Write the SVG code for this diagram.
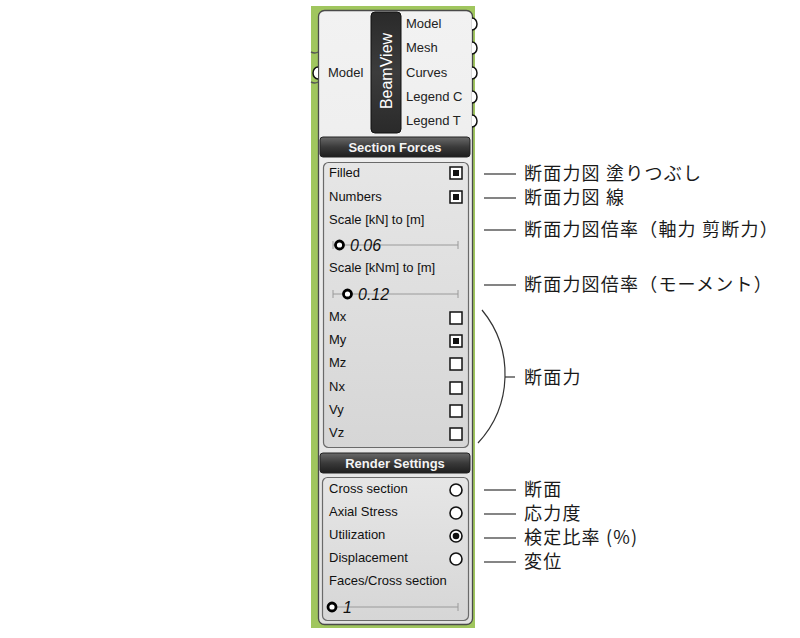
<svg xmlns="http://www.w3.org/2000/svg" width="800" height="638" viewBox="0 0 800 638">
<defs>
<linearGradient id="hdr" x1="0" y1="0" x2="0" y2="1">
<stop offset="0" stop-color="#6a6a6a"/><stop offset="0.5" stop-color="#3a3a3a"/><stop offset="1" stop-color="#1e1e1e"/>
</linearGradient>
<linearGradient id="body" x1="0" y1="0" x2="0" y2="1">
<stop offset="0" stop-color="#f2f2f2"/><stop offset="1" stop-color="#e2e2e2"/>
</linearGradient>
<linearGradient id="panel" x1="0" y1="0" x2="0" y2="1">
<stop offset="0" stop-color="#e6e6e6"/><stop offset="1" stop-color="#d6d6d6"/>
</linearGradient>
<linearGradient id="nick" x1="0" y1="0" x2="0" y2="1">
<stop offset="0" stop-color="#2a2a2a"/><stop offset="0.5" stop-color="#3c3c3c"/><stop offset="1" stop-color="#2a2a2a"/>
</linearGradient>
</defs>
<style>
.ui{font-family:"Liberation Sans","DejaVu Sans",Arial,sans-serif;font-size:13px;fill:#111}
.port{font-family:"Liberation Sans","DejaVu Sans",Arial,sans-serif;font-size:13px;fill:#222}
.hdrt{font-family:"Liberation Sans","DejaVu Sans",Arial,sans-serif;font-size:13px;font-weight:bold;fill:#f4f4f4}
.val{font-family:"Liberation Sans","DejaVu Sans",Arial,sans-serif;font-size:16px;font-style:italic;fill:#111}
.jp{font-family:"Noto Sans CJK JP","Noto Sans",sans-serif;font-size:18px;letter-spacing:1.2px;fill:#1a1a1a}
.cb{fill:#fff;stroke:#111;stroke-width:1.5}
.cbon{fill:#111}
.rd{fill:#fff;stroke:#111;stroke-width:1.6}
.sl{stroke:#9a9a9a;stroke-width:1;fill:none}
.knob{fill:#fff;stroke:#000;stroke-width:2.8}
.lead{stroke:#333;stroke-width:1.2;fill:none}
.pt{fill:#fff;stroke:#111;stroke-width:1.5}
</style>
<rect x="311" y="6" width="164" height="622" fill="#a0c65e"/>
<path d="M311,52 q4,2 7,0" stroke="#555" stroke-width="1.5" fill="none"/>
<path d="M311,82 q4,2 7,0" stroke="#555" stroke-width="1.5" fill="none"/>

<g id="beamview-node">
<rect x="318.5" y="10.5" width="154" height="614" rx="6" fill="url(#body)" stroke="#4a4a4a" stroke-width="1.3"/>
<path class="pt" d="M318,67 a5,6 0 0 0 0,12"/>
<text class="port" x="328" y="77">Model</text>
<rect x="371" y="12" width="30" height="121" rx="4" fill="url(#nick)" stroke="#111" stroke-width="1"/>
<text x="392" y="71" transform="rotate(-90 392 71)" text-anchor="middle" font-family="Liberation Sans,DejaVu Sans,Arial,sans-serif" font-size="16" fill="#fff">BeamView</text>
<text class="port" x="406" y="28">Model</text>
<text class="port" x="406" y="52">Mesh</text>
<text class="port" x="406" y="77">Curves</text>
<text class="port" x="406" y="101">Legend C</text>
<text class="port" x="406" y="125">Legend T</text>
<path class="pt" d="M472,18 a5,6 0 0 1 0,12"/>
<path class="pt" d="M472,42 a5,6 0 0 1 0,12"/>
<path class="pt" d="M472,67 a5,6 0 0 1 0,12"/>
<path class="pt" d="M472,91 a5,6 0 0 1 0,12"/>
<path class="pt" d="M472,115 a5,6 0 0 1 0,12"/>
</g>

<g id="section-forces">
<rect x="320" y="137" width="150" height="20" rx="3" fill="url(#hdr)" stroke="#222"/>
<text class="hdrt" x="395" y="151.5" text-anchor="middle">Section Forces</text>
<rect x="323.5" y="162.5" width="145" height="285" rx="5" fill="url(#panel)" stroke="#6a6a6a" stroke-width="1.2"/>
<text class="ui" x="329" y="177">Filled</text>
<rect class="cb" x="450" y="167" width="12" height="12"/><rect class="cbon" x="453" y="170" width="6" height="6"/>
<text class="ui" x="329" y="201">Numbers</text>
<rect class="cb" x="450" y="191" width="12" height="12"/><rect class="cbon" x="453" y="194" width="6" height="6"/>
<text class="ui" x="329" y="224">Scale [kN] to [m]</text>
<line class="sl" x1="333" y1="245" x2="458" y2="245"/><line class="sl" x1="458" y1="241" x2="458" y2="249"/><line class="sl" x1="333" y1="241" x2="333" y2="249"/>
<circle class="knob" cx="339.5" cy="245" r="4"/>
<text class="val" x="350" y="250.5">0.06</text>
<text class="ui" x="329" y="272">Scale [kNm] to [m]</text>
<line class="sl" x1="333" y1="294" x2="458" y2="294"/><line class="sl" x1="458" y1="290" x2="458" y2="298"/><line class="sl" x1="333" y1="290" x2="333" y2="298"/>
<circle class="knob" cx="347.5" cy="294" r="4"/>
<text class="val" x="358" y="299.5">0.12</text>
<text class="ui" x="329" y="321">Mx</text>
<rect class="cb" x="450" y="312" width="12" height="12"/>
<text class="ui" x="329" y="344">My</text>
<rect class="cb" x="450" y="335" width="12" height="12"/><rect class="cbon" x="453" y="338" width="6" height="6"/>
<text class="ui" x="329" y="367">Mz</text>
<rect class="cb" x="450" y="358" width="12" height="12"/>
<text class="ui" x="329" y="391">Nx</text>
<rect class="cb" x="450" y="382" width="12" height="12"/>
<text class="ui" x="329" y="414">Vy</text>
<rect class="cb" x="450" y="405" width="12" height="12"/>
<text class="ui" x="329" y="437">Vz</text>
<rect class="cb" x="450" y="428" width="12" height="12"/>
</g>

<g id="render-settings">
<rect x="320" y="453" width="150" height="20" rx="3" fill="url(#hdr)" stroke="#222"/>
<text class="hdrt" x="395" y="467.5" text-anchor="middle">Render Settings</text>
<rect x="322.5" y="477.5" width="146" height="143" rx="5" fill="url(#panel)" stroke="#6a6a6a" stroke-width="1.2"/>
<text class="ui" x="329" y="493">Cross section</text>
<circle class="rd" cx="456" cy="490" r="6"/>
<text class="ui" x="329" y="516">Axial Stress</text>
<circle class="rd" cx="456" cy="513" r="6"/>
<text class="ui" x="329" y="539">Utilization</text>
<circle class="rd" cx="456" cy="536" r="6"/><circle cx="456" cy="536" r="3.3" fill="#111"/>
<text class="ui" x="329" y="562">Displacement</text>
<circle class="rd" cx="456" cy="559" r="6"/>
<text class="ui" x="329" y="585">Faces/Cross section</text>
<line class="sl" x1="333" y1="607" x2="458" y2="607"/><line class="sl" x1="458" y1="603" x2="458" y2="611"/>
<circle class="knob" cx="332" cy="607" r="4"/>
<text class="val" x="343" y="612.5">1</text>
</g>

<g id="connectors">
<line class="lead" x1="484" y1="174" x2="516" y2="174"/>
<line class="lead" x1="484" y1="198" x2="516" y2="198"/>
<line class="lead" x1="484" y1="230" x2="516" y2="230"/>
<line class="lead" x1="484" y1="285" x2="516" y2="285"/>
<path class="lead" d="M482,310 A101,101 0 0 1 478,443"/>
<line class="lead" x1="505" y1="377" x2="515" y2="377"/>
<line class="lead" x1="484" y1="490" x2="516" y2="490"/>
<line class="lead" x1="484" y1="514" x2="516" y2="514"/>
<line class="lead" x1="484" y1="538" x2="516" y2="538"/>
<line class="lead" x1="484" y1="562" x2="516" y2="562"/>
</g>

<g id="labels">
<text class="jp" x="524" y="180">断面力図 塗りつぶし</text>
<text class="jp" x="524" y="204">断面力図 線</text>
<text class="jp" x="524" y="236">断面力図倍率（軸力 剪断力）</text>
<text class="jp" x="524" y="291">断面力図倍率（モーメント）</text>
<text class="jp" x="524" y="384">断面力</text>
<text class="jp" x="524" y="496">断面</text>
<text class="jp" x="524" y="520">応力度</text>
<text class="jp" x="524" y="544">検定比率 (%)</text>
<text class="jp" x="524" y="568">変位</text>
</g>
</svg>
